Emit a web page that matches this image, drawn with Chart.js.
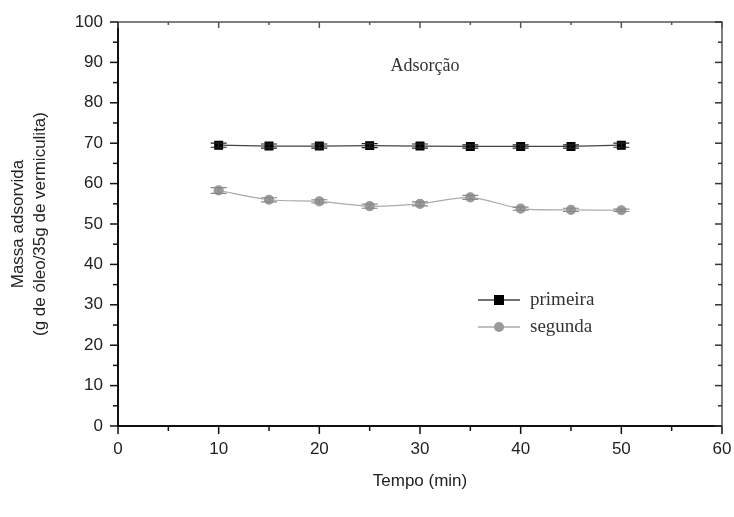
<!DOCTYPE html>
<html>
<head>
<meta charset="utf-8">
<script src="https://cdn.jsdelivr.net/npm/chart.js@4"></script>
<style>
  html, body { margin: 0; padding: 0; background: #fff; }
  #wrap { width: 734px; height: 517px; }
</style>
</head>
<body>
<div id="wrap"><canvas id="grafico" width="734" height="517"></canvas></div>
<script>
const tempos = [10, 15, 20, 25, 30, 35, 40, 45, 50];
const primeira = [69.5, 69.3, 69.3, 69.4, 69.3, 69.2, 69.2, 69.2, 69.5];
const primeiraErro = [0.5, 0.5, 0.5, 0.5, 0.5, 0.4, 0.4, 0.4, 0.5];
const segunda = [58.3, 56.0, 55.6, 54.4, 55.0, 56.6, 53.8, 53.5, 53.4];
const segundaErro = [0.7, 0.5, 0.4, 0.5, 0.5, 0.5, 0.4, 0.4, 0.3];
const xTicks = [0, 10, 20, 30, 40, 50, 60];
const yTicks = [0, 10, 20, 30, 40, 50, 60, 70, 80, 90, 100];

const erros = [primeiraErro, segundaErro];

// sem folga extra para os rótulos das pontas
function semFolga(s) {
    s.paddingLeft = 0; s.paddingRight = 0; s.paddingTop = 0; s.paddingBottom = 0;
}

// moldura, barras de erro, legenda e título desenhados à mão
const extras = {
    id: 'extras',
    afterDatasetsDraw(chart) {
        const ctx = chart.ctx;
        const xs = chart.scales.x, ys = chart.scales.y;

        // barras de erro
        chart.data.datasets.forEach((ds, i) => {
            ctx.save();
            ctx.strokeStyle = i === 0 ? '#222' : '#888';
            ctx.lineWidth = 1.2;
            ds.data.forEach((p, j) => {
                const px = xs.getPixelForValue(p.x);
                const y1 = ys.getPixelForValue(p.y + erros[i][j]);
                const y2 = ys.getPixelForValue(p.y - erros[i][j]);
                ctx.beginPath();
                ctx.moveTo(px, y1); ctx.lineTo(px, y2);
                ctx.moveTo(px - 8, y1); ctx.lineTo(px + 8, y1);
                ctx.moveTo(px - 8, y2); ctx.lineTo(px + 8, y2);
                ctx.stroke();
            });
            ctx.restore();
        });
    },
    afterDraw(chart) {
        const ctx = chart.ctx;
        const xs = chart.scales.x, ys = chart.scales.y;
        const a = chart.chartArea;
        ctx.save();

        // moldura
        ctx.strokeStyle = '#555';
        ctx.lineWidth = 1.5;
        ctx.beginPath();
        ctx.moveTo(a.left, a.top); ctx.lineTo(a.right, a.top); ctx.lineTo(a.right, a.bottom);
        ctx.stroke();
        ctx.strokeStyle = '#111';
        ctx.lineWidth = 2;
        ctx.beginPath();
        ctx.moveTo(a.left, a.top); ctx.lineTo(a.left, a.bottom); ctx.lineTo(a.right, a.bottom);
        ctx.stroke();

        // marcas dos eixos
        ctx.lineWidth = 1.5;
        for (let v = 0; v <= 60; v += 5) {
            const px = xs.getPixelForValue(v);
            const len = v % 10 === 0 ? 8 : 5;
            ctx.strokeStyle = '#111';
            ctx.beginPath(); ctx.moveTo(px, a.bottom); ctx.lineTo(px, a.bottom + len); ctx.stroke();
            ctx.strokeStyle = '#555';
            ctx.beginPath(); ctx.moveTo(px, a.top); ctx.lineTo(px, a.top + len - 2); ctx.stroke();
        }
        for (let v = 0; v <= 100; v += 5) {
            const py = ys.getPixelForValue(v);
            const len = v % 10 === 0 ? 8 : 5;
            ctx.strokeStyle = '#111';
            ctx.beginPath(); ctx.moveTo(a.left - len, py); ctx.lineTo(a.left, py); ctx.stroke();
            ctx.strokeStyle = '#333';
            ctx.beginPath(); ctx.moveTo(a.right - len + 1, py); ctx.lineTo(a.right, py); ctx.stroke();
        }

        // título interno
        ctx.fillStyle = '#333';
        ctx.font = '18px "Liberation Serif", serif';
        ctx.textAlign = 'center';
        ctx.textBaseline = 'middle';
        ctx.fillText('Adsorção', xs.getPixelForValue(30.5), ys.getPixelForValue(89));

        // legenda
        ctx.textAlign = 'left';
        ctx.font = '19px "Liberation Serif", serif';
        chart.data.datasets.forEach((ds, i) => {
            const ly = 300 + i * 27;
            ctx.strokeStyle = ds.borderColor;
            ctx.lineWidth = 1.3;
            ctx.beginPath(); ctx.moveTo(478, ly); ctx.lineTo(520, ly); ctx.stroke();
            ctx.fillStyle = ds.pointBackgroundColor;
            if (ds.pointStyle === 'rect') {
                ctx.fillRect(494, ly - 5, 10, 10);
            } else {
                ctx.beginPath(); ctx.arc(499, ly, 5, 0, Math.PI * 2); ctx.fill();
            }
            ctx.fillStyle = '#333';
            ctx.fillText(ds.label, 530, ly);
        });
        ctx.restore();
    }
};

new Chart(document.getElementById('grafico'), {
    type: 'line',
    data: {
        datasets: [
            {
                label: 'primeira',
                data: tempos.map((t, i) => ({ x: t, y: primeira[i] })),
                borderColor: '#444',
                borderWidth: 1.2,
                pointStyle: 'rect',
                pointRadius: 5.5,
                pointBackgroundColor: '#000',
                pointBorderColor: '#000',
                tension: 0
            },
            {
                label: 'segunda',
                data: tempos.map((t, i) => ({ x: t, y: segunda[i] })),
                borderColor: '#aaa',
                borderWidth: 1.2,
                pointStyle: 'circle',
                pointRadius: 4.5,
                pointBackgroundColor: '#999',
                pointBorderColor: '#999',
                tension: 0.3
            }
        ]
    },
    options: {
        responsive: false,
        animation: false,
        layout: { padding: { left: 0, right: 12, top: 22, bottom: 0 } },
        plugins: { legend: { display: false }, tooltip: { enabled: false } },
        scales: {
            x: {
                type: 'linear', min: 0, max: 60,
                afterBuildTicks: s => { s.ticks = xTicks.map(v => ({ value: v })); },
                afterFit: s => { s.height = 91; semFolga(s); },
                grid: { display: false, drawTicks: false },
                border: { display: false },
                ticks: { padding: 13, color: '#222', font: { family: '"Liberation Sans", Arial', size: 17 } },
                title: {
                    display: true, text: 'Tempo (min)', color: '#222',
                    font: { family: '"Liberation Sans", Arial', size: 17 },
                    padding: { top: 0, bottom: 25 }
                }
            },
            y: {
                min: 0, max: 100,
                afterBuildTicks: s => { s.ticks = yTicks.map(v => ({ value: v })); },
                afterFit: s => { s.width = 118; semFolga(s); },
                grid: { display: false, drawTicks: false },
                border: { display: false },
                ticks: { padding: 15, color: '#222', font: { family: '"Liberation Sans", Arial', size: 17 } },
                title: {
                    display: true, text: ['Massa adsorvida', '(g de óleo/35g de vermiculita)'], color: '#222',
                    font: { family: '"Liberation Sans", Arial', size: 17, lineHeight: 1.3 },
                    padding: { top: 7, bottom: 7 }
                }
            }
        }
    },
    plugins: [extras]
});
</script>
</body>
</html>
